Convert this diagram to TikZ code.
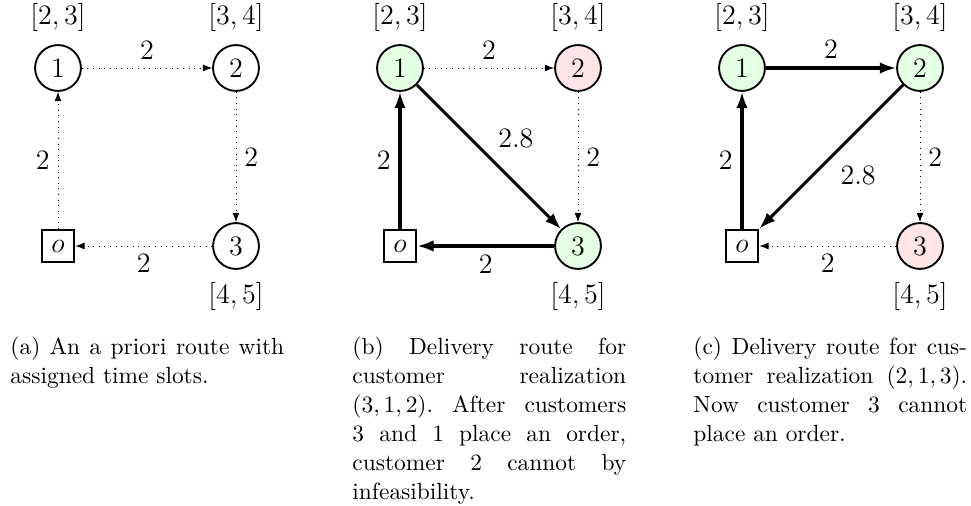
\documentclass[tikz,border=0pt]{standalone}
\usetikzlibrary{arrows.meta}
\begin{document}
\begin{tikzpicture}[x=0.42735pt,y=-0.42735pt,
  every node/.style={font=\large},
  every label/.style={font=\large},
  label distance=1.8pt,
  cust/.style={circle,draw,thick,minimum size=19.6pt,inner sep=0pt},
  depot/.style={rectangle,draw,thick,minimum size=14pt,inner sep=0pt},
  plan/.style={-{Latex[length=4pt,width=3pt]},dotted},
  route/.style={-{Latex[length=7pt,width=5pt]},line width=1.3pt},
  okc/.style={fill=green!10},
  badc/.style={fill=red!10},
  subcap/.style={anchor=north west,text width=117pt,align=justify,inner sep=0pt,
    font=\fontsize{10}{12.4}\selectfont\frenchspacing}]
\useasboundingbox (0,0) rectangle (971,506);

% ---------- (a) ----------
\node[cust,label=above:{$[2,3]$}] (a1) at (58,68) {$1$};
\node[cust,label=above:{$[3,4]$}] (a2) at (236,68) {$2$};
\node[cust,label=below:{$[4,5]$}] (a3) at (236,246) {$3$};
\node[depot] (ao) at (58,246) {$o$};
\draw[plan] (a1) -- node[above]{$2$} (a2);
\draw[plan] (a2) -- node[right]{$2$} (a3);
\draw[plan] (a3) -- node[below]{$2$} (ao);
\draw[plan] (ao) -- node[left]{$2$} (a1);
\node[subcap] (capa) at (10,336) {(a) An a priori route with\linebreak assigned time slots.};

% ---------- (b) ----------
\begin{scope}[shift={(342,0)}]
\node[cust,okc,label=above:{$[2,3]$}] (b1) at (58,68) {$1$};
\node[cust,badc,label=above:{$[3,4]$}] (b2) at (236,68) {$2$};
\node[cust,okc,label=below:{$[4,5]$}] (b3) at (236,246) {$3$};
\node[depot] (bo) at (58,246) {$o$};
\draw[plan] (b1) -- node[above]{$2$} (b2);
\draw[plan] (b2) -- node[right]{$2$} (b3);
\draw[route] (b3) -- node[below]{$2$} (bo);
\draw[route] (bo) -- node[left]{$2$} (b1);
\draw[route] (b1) -- node[above right]{$2.8$} (b3);
\node[subcap] (capb) at (10,336) {(b) Delivery route for\linebreak customer realization\linebreak $(3,1,2)$. After customers\linebreak 3 and 1 place an order,\linebreak customer 2 cannot by\linebreak infeasibility.};
\end{scope}

% ---------- (c) ----------
\begin{scope}[shift={(684,0)}]
\node[cust,okc,label=above:{$[2,3]$}] (c1) at (58,68) {$1$};
\node[cust,okc,label=above:{$[3,4]$}] (c2) at (236,68) {$2$};
\node[cust,badc,label=below:{$[4,5]$}] (c3) at (236,246) {$3$};
\node[depot] (co) at (58,246) {$o$};
\draw[route] (c1) -- node[above]{$2$} (c2);
\draw[plan] (c2) -- node[right]{$2$} (c3);
\draw[plan] (c3) -- node[below]{$2$} (co);
\draw[route] (co) -- node[left]{$2$} (c1);
\draw[route] (c2) -- node[below right]{$2.8$} (co);
\node[subcap] (capc) at (9,336) {(c) Delivery route for cus-\linebreak tomer realization $(2,1,3)$.\linebreak Now customer 3 cannot\linebreak place an order.};
\end{scope}
\end{tikzpicture}
\end{document}
